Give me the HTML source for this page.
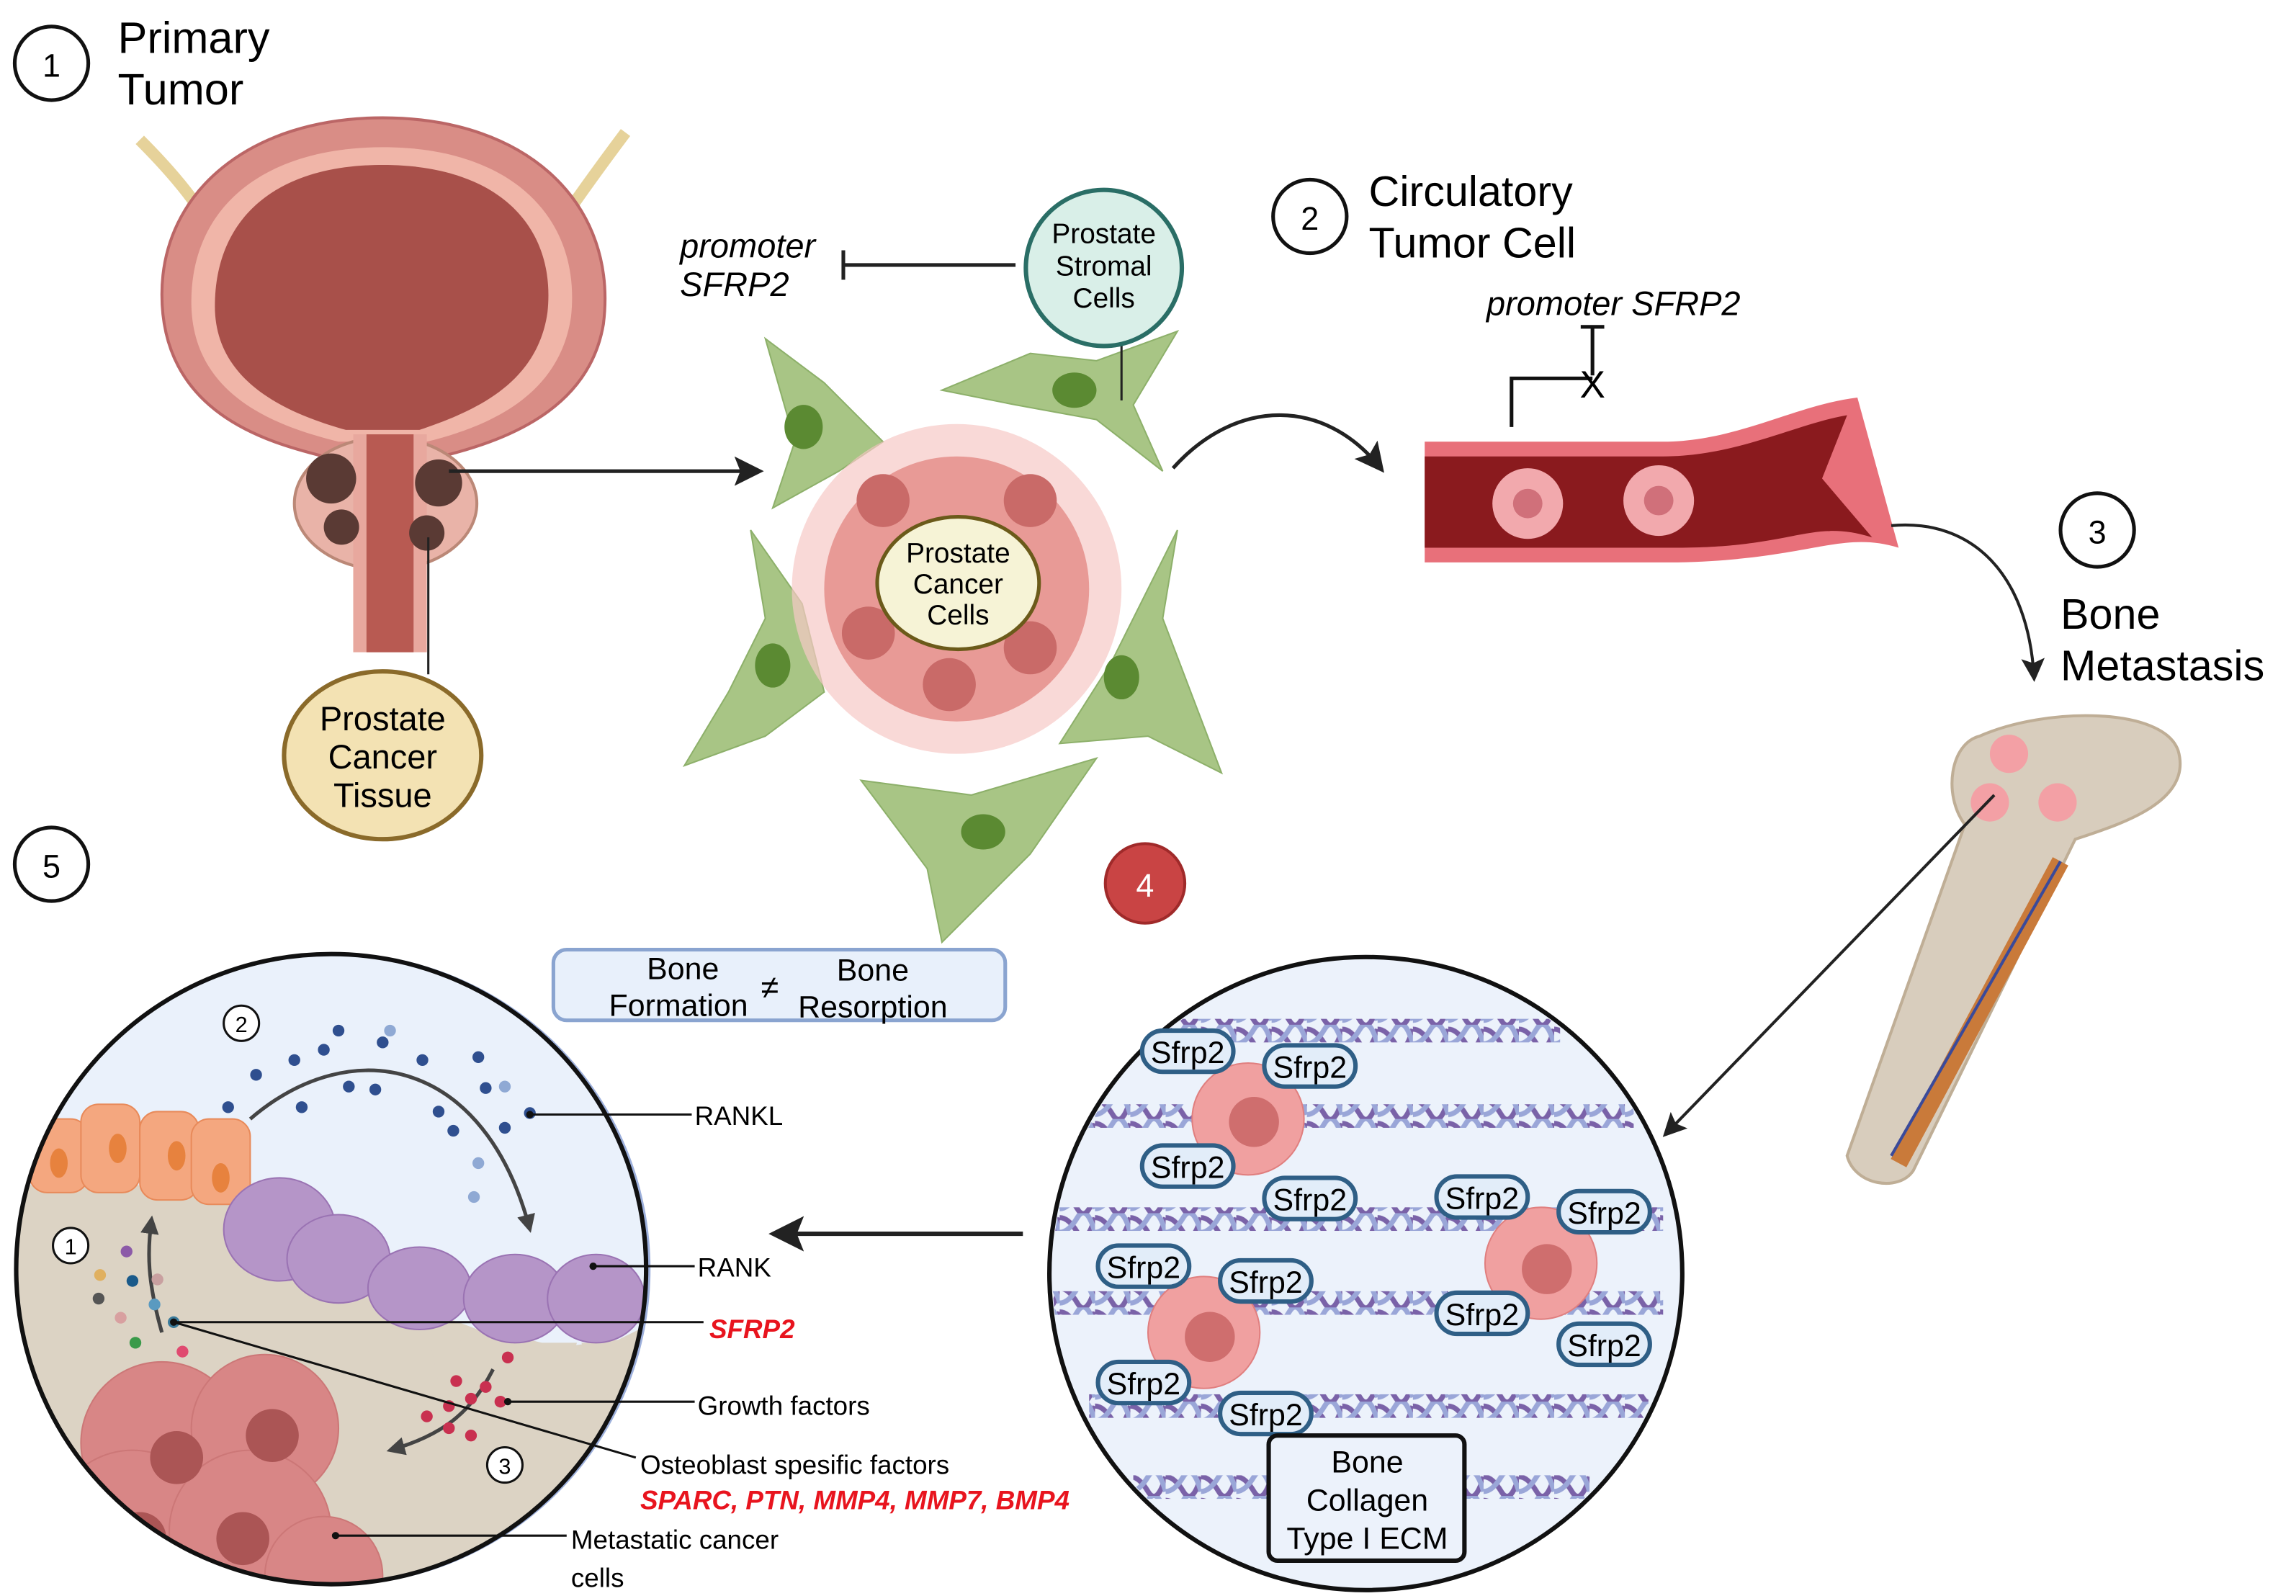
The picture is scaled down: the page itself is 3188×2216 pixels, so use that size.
<!DOCTYPE html>
<html><head><meta charset="utf-8"><style>
html,body{margin:0;padding:0;background:#fff}
svg{display:block}
text{font-family:"Liberation Sans",sans-serif}
</style></head><body>
<svg width="3188" height="2216" viewBox="0 0 1560 1084" preserveAspectRatio="none" xmlns="http://www.w3.org/2000/svg">
<defs>
<pattern id="col" x="0" y="-8" width="24" height="16" patternUnits="userSpaceOnUse">
<path d="M0,3 Q6,3 12,13 T24,3" fill="none" stroke="#7a62a8" stroke-width="3.5"/>
<path d="M0,13 Q6,13 12,3 T24,13" fill="none" stroke="#9aa6d8" stroke-width="3.5"/>
</pattern>
<marker id="ah" viewBox="0 0 10 10" refX="8" refY="5" markerWidth="8" markerHeight="8" orient="auto"><path d="M0,0 L10,5 L0,10 L2,5 z" fill="#222"/></marker>
<marker id="ahg" viewBox="0 0 10 10" refX="8" refY="5" markerWidth="5" markerHeight="5" orient="auto"><path d="M0,0 L10,5 L0,10 z" fill="#444"/></marker>
<clipPath id="cl"><circle cx="225" cy="862" r="213"/></clipPath>
<clipPath id="cr"><circle cx="928" cy="865" r="213"/></clipPath>
</defs>

<!-- Step 1 -->
<circle cx="35" cy="43" r="25" fill="#fff" stroke="#111" stroke-width="2.5"/>
<text x="35" y="52" font-size="22" text-anchor="middle">1</text>
<text x="80" y="36" font-size="30">Primary</text>
<text x="80" y="71" font-size="30">Tumor</text>

<!-- bladder -->
<path d="M95,95 Q140,140 150,170" stroke="#e6d29a" stroke-width="8" fill="none"/>
<path d="M425,90 Q395,130 375,160" stroke="#e6d29a" stroke-width="8" fill="none"/>
<path d="M260,80 C360,80 420,140 410,220 C400,280 340,300 300,310 L220,310 C180,300 110,280 110,200 C110,130 170,80 260,80 Z" fill="#d98d86" stroke="#b66" stroke-width="2"/>
<path d="M260,100 C350,100 395,150 388,215 C380,270 330,290 290,300 L230,300 C190,290 130,270 130,205 C130,140 180,100 260,100 Z" fill="#f0b5a8"/>
<path d="M260,112 C340,112 378,155 372,212 C365,262 320,280 285,292 L235,292 C200,282 146,262 146,208 C146,150 185,112 260,112 Z" fill="#a8504a"/>
<ellipse cx="262" cy="342" rx="62" ry="45" fill="#e9b3a8" stroke="#b87" stroke-width="2"/>
<rect x="240" y="295" width="50" height="148" fill="#e8a89e"/>
<rect x="249" y="295" width="32" height="148" fill="#b85a52"/>
<circle cx="225" cy="325" r="17" fill="#5a3a34"/>
<circle cx="232" cy="358" r="12" fill="#5a3a34"/>
<circle cx="298" cy="328" r="16" fill="#5a3a34"/>
<circle cx="290" cy="362" r="12" fill="#5a3a34"/>
<line x1="291" y1="365" x2="291" y2="458" stroke="#222" stroke-width="1.5"/>
<ellipse cx="260" cy="513" rx="67" ry="57" fill="#f3e2b3" stroke="#8a6a2a" stroke-width="3"/>
<text x="260" y="496" font-size="23" text-anchor="middle">Prostate</text>
<text x="260" y="522" font-size="23" text-anchor="middle">Cancer</text>
<text x="260" y="548" font-size="23" text-anchor="middle">Tissue</text>
<line x1="305" y1="320" x2="515" y2="320" stroke="#222" stroke-width="2.5" marker-end="url(#ah)"/>

<!-- microenvironment -->
<text x="462" y="175" font-size="23" font-style="italic">promoter</text>
<text x="462" y="201" font-size="23" font-style="italic">SFRP2</text>
<line x1="573" y1="180" x2="690" y2="180" stroke="#222" stroke-width="2.5"/>
<line x1="573" y1="170" x2="573" y2="190" stroke="#222" stroke-width="2.5"/>
<g fill="#a8c585" stroke="#8db06a" stroke-width="1">
<path d="M520,230 L560,260 L600,300 L570,320 L525,345 L540,300 Z"/>
<path d="M640,265 L700,240 L745,245 L800,225 L770,275 L790,320 L745,285 L690,275 Z"/>
<path d="M510,360 L545,410 L560,470 L520,500 L465,520 L495,470 L520,420 Z"/>
<path d="M800,360 L790,420 L830,525 L780,500 L720,505 L755,450 L780,400 Z"/>
<path d="M585,530 L660,540 L745,515 L700,580 L640,640 L630,590 Z"/>
</g>
<g fill="#5b8a32"><ellipse cx="546" cy="290" rx="13" ry="15"/><ellipse cx="730" cy="265" rx="15" ry="12"/><ellipse cx="525" cy="452" rx="12" ry="15"/><ellipse cx="762" cy="460" rx="12" ry="15"/><ellipse cx="668" cy="565" rx="15" ry="12"/></g>
<circle cx="650" cy="400" r="112" fill="#f6c9c6" opacity="0.7"/>
<circle cx="650" cy="400" r="90" fill="#e89a96"/>
<g fill="#c96a68"><circle cx="600" cy="340" r="18"/><circle cx="700" cy="340" r="18"/><circle cx="590" cy="430" r="18"/><circle cx="700" cy="440" r="18"/><circle cx="645" cy="465" r="18"/></g>
<ellipse cx="651" cy="396" rx="55" ry="45" fill="#f6f3d6" stroke="#6b5a1a" stroke-width="2.5"/>
<text x="651" y="382" font-size="19" text-anchor="middle">Prostate</text>
<text x="651" y="403" font-size="19" text-anchor="middle">Cancer</text>
<text x="651" y="424" font-size="19" text-anchor="middle">Cells</text>
<line x1="762" y1="230" x2="762" y2="272" stroke="#222" stroke-width="1.5"/>
<circle cx="750" cy="182" r="53" fill="#d9efe8" stroke="#2a6e66" stroke-width="3"/>
<text x="750" y="165" font-size="19" text-anchor="middle">Prostate</text>
<text x="750" y="187" font-size="19" text-anchor="middle">Stromal</text>
<text x="750" y="209" font-size="19" text-anchor="middle">Cells</text>
<circle cx="778" cy="600" r="27" fill="#c94444" stroke="#a02a2a" stroke-width="2"/>
<text x="778" y="609" font-size="22" text-anchor="middle" fill="#fff">4</text>
<rect x="376" y="645" width="307" height="48" rx="9" fill="#e8f0fb" stroke="#8aa4d0" stroke-width="2.5"/>
<text x="464" y="665" font-size="21" text-anchor="middle">Bone</text>
<text x="461" y="690" font-size="21" text-anchor="middle">Formation</text>
<text x="523" y="678" font-size="22" text-anchor="middle">≠</text>
<text x="593" y="666" font-size="21" text-anchor="middle">Bone</text>
<text x="593" y="691" font-size="21" text-anchor="middle">Resorption</text>

<!-- Step 2 -->
<circle cx="890" cy="147" r="25" fill="#fff" stroke="#111" stroke-width="2.5"/>
<text x="890" y="156" font-size="22" text-anchor="middle">2</text>
<text x="930" y="140" font-size="29">Circulatory</text>
<text x="930" y="175" font-size="29">Tumor Cell</text>
<text x="1010" y="214" font-size="23" font-style="italic">promoter SFRP2</text>
<path d="M1027,290 L1027,257 L1082,257" stroke="#111" stroke-width="2.5" fill="none"/>
<line x1="1082" y1="222" x2="1082" y2="255" stroke="#111" stroke-width="2.5"/>
<line x1="1074" y1="222" x2="1090" y2="222" stroke="#111" stroke-width="2.5"/>
<text x="1082" y="270" font-size="26" text-anchor="middle">X</text>
<path d="M797,318 C840,270 900,270 938,318" stroke="#222" stroke-width="2.5" fill="none" marker-end="url(#ah)"/>
<path d="M968,300 L1130,300 C1180,300 1220,275 1262,270 L1290,372 C1250,360 1230,380 1140,382 L968,382 Z" fill="#e8707a"/>
<path d="M968,310 L1130,310 C1180,310 1220,288 1255,282 L1238,325 L1272,365 C1230,352 1220,372 1140,372 L968,372 Z" fill="#8a1a1e"/>
<circle cx="1038" cy="342" r="24" fill="#f2a9ad"/><circle cx="1038" cy="342" r="10" fill="#d0707a"/>
<circle cx="1127" cy="340" r="24" fill="#f2a9ad"/><circle cx="1127" cy="340" r="10" fill="#d0707a"/>

<!-- Step 3 -->
<circle cx="1425" cy="360" r="25" fill="#fff" stroke="#111" stroke-width="2.5"/>
<text x="1425" y="369" font-size="22" text-anchor="middle">3</text>
<text x="1400" y="427" font-size="29">Bone</text>
<text x="1400" y="462" font-size="29">Metastasis</text>
<path d="M1285,357 C1340,352 1378,390 1382,460" stroke="#222" stroke-width="2" fill="none" marker-end="url(#ah)"/>
<!-- femur -->
<path d="M1345,500 C1390,480 1470,480 1480,510 C1490,545 1440,560 1410,570 L1300,795 C1290,810 1260,805 1255,785 L1335,560 C1320,540 1325,505 1345,500 Z" fill="#d8cdbd" stroke="#bfae96" stroke-width="2"/>
<path d="M1400,585 L1290,790" stroke="#c97a3a" stroke-width="12"/>
<path d="M1400,585 L1285,785" stroke="#3a4a9a" stroke-width="2"/>
<circle cx="1365" cy="512" r="13" fill="#f3a0a5"/><circle cx="1352" cy="545" r="13" fill="#f3a0a5"/><circle cx="1398" cy="545" r="13" fill="#f3a0a5"/>
<line x1="1355" y1="540" x2="1132" y2="770" stroke="#222" stroke-width="2" marker-end="url(#ah)"/>

<!-- right circle -->
<circle cx="928" cy="865" r="215" fill="#ecf2fb"/>
<g clip-path="url(#cr)">
<rect x="780" y="692" width="280" height="16" fill="url(#col)"/>
<rect x="710" y="750" width="400" height="16" fill="url(#col)"/>
<rect x="710" y="820" width="420" height="16" fill="url(#col)"/>
<rect x="710" y="877" width="420" height="16" fill="url(#col)"/>
<rect x="740" y="947" width="380" height="16" fill="url(#col)"/>
<rect x="770" y="1002" width="310" height="16" fill="url(#col)"/>
</g>
<circle cx="928" cy="865" r="215" fill="none" stroke="#111" stroke-width="3"/>
<g fill="#f0a0a0" stroke="#e07f7f"><circle cx="848" cy="760" r="38"/><circle cx="1047" cy="858" r="38"/><circle cx="818" cy="905" r="38"/></g>
<g fill="#cf6e6e"><circle cx="852" cy="762" r="17"/><circle cx="1051" cy="862" r="17"/><circle cx="822" cy="908" r="17"/></g>
<g fill="#e2edf9" stroke="#2f5f86" stroke-width="3">
<rect x="776" y="700" width="62" height="28" rx="14"/><rect x="859" y="710" width="62" height="28" rx="14"/>
<rect x="776" y="778" width="62" height="28" rx="14"/><rect x="859" y="800" width="62" height="28" rx="14"/>
<rect x="976" y="799" width="62" height="28" rx="14"/><rect x="1059" y="809" width="62" height="28" rx="14"/>
<rect x="746" y="846" width="62" height="28" rx="14"/><rect x="829" y="856" width="62" height="28" rx="14"/>
<rect x="976" y="878" width="62" height="28" rx="14"/><rect x="1059" y="899" width="62" height="28" rx="14"/>
<rect x="746" y="925" width="62" height="28" rx="14"/><rect x="829" y="946" width="62" height="28" rx="14"/>
</g>
<g font-size="21" text-anchor="middle">
<text x="807" y="722">Sfrp2</text><text x="890" y="732">Sfrp2</text>
<text x="807" y="800">Sfrp2</text><text x="890" y="822">Sfrp2</text>
<text x="1007" y="821">Sfrp2</text><text x="1090" y="831">Sfrp2</text>
<text x="777" y="868">Sfrp2</text><text x="860" y="878">Sfrp2</text>
<text x="1007" y="900">Sfrp2</text><text x="1090" y="921">Sfrp2</text>
<text x="777" y="947">Sfrp2</text><text x="860" y="968">Sfrp2</text>
</g>
<rect x="862" y="975" width="133" height="85" rx="6" fill="#ecf2fb" stroke="#111" stroke-width="3"/>
<text x="929" y="1000" font-size="21" text-anchor="middle">Bone</text>
<text x="929" y="1026" font-size="21" text-anchor="middle">Collagen</text>
<text x="929" y="1052" font-size="21" text-anchor="middle">Type I ECM</text>
<line x1="695" y1="838" x2="527" y2="838" stroke="#222" stroke-width="3" marker-end="url(#ah)"/>

<!-- Step 5 -->
<circle cx="35" cy="587" r="25" fill="#fff" stroke="#111" stroke-width="2.5"/>
<text x="35" y="596" font-size="22" text-anchor="middle">5</text>
<circle cx="227" cy="862" r="215" fill="#9db0dc"/>
<circle cx="225" cy="862" r="214" fill="#eaf1fb"/>
<g clip-path="url(#cl)">
<path d="M0,805 L160,805 L180,830 L230,860 L255,875 L290,890 L330,905 L360,910 L380,915 L420,910 L440,900 L440,1100 L0,1100 Z" fill="#dcd3c4"/>
<path d="M150,820 Q160,860 190,900 L200,840 Z" fill="#dcd3c4"/>
<path d="M240,870 L255,940 L270,880 Z M290,900 L300,950 L315,905 Z M330,905 L345,955 L360,910 Z M365,912 L378,955 L392,912 Z M395,912 L410,955 L425,912 Z" fill="#dcd3c4"/>
<g fill="#f4a77f" stroke="#e88a5a"><rect x="20" y="760" width="40" height="50" rx="12"/><rect x="55" y="750" width="40" height="60" rx="12"/><rect x="95" y="755" width="40" height="60" rx="12"/><rect x="130" y="760" width="40" height="58" rx="12"/></g>
<g fill="#e7823e"><ellipse cx="40" cy="790" rx="6" ry="10"/><ellipse cx="80" cy="780" rx="6" ry="10"/><ellipse cx="120" cy="785" rx="6" ry="10"/><ellipse cx="150" cy="800" rx="6" ry="10"/></g>
<g fill="#b595c8" stroke="#9a73b3"><ellipse cx="190" cy="835" rx="38" ry="35"/><ellipse cx="230" cy="855" rx="35" ry="30"/><ellipse cx="285" cy="875" rx="35" ry="28"/><ellipse cx="350" cy="882" rx="35" ry="30"/><ellipse cx="405" cy="882" rx="33" ry="30"/></g>
<g fill="#d88686" stroke="#c77"><circle cx="110" cy="980" r="55"/><circle cx="180" cy="970" r="50"/><circle cx="90" cy="1040" r="55"/><circle cx="170" cy="1040" r="55"/><circle cx="220" cy="1070" r="40"/></g>
<g fill="#ab5555"><circle cx="120" cy="990" r="18"/><circle cx="185" cy="975" r="18"/><circle cx="95" cy="1045" r="18"/><circle cx="165" cy="1045" r="18"/></g>
</g>
<circle cx="225" cy="862" r="214" fill="none" stroke="#111" stroke-width="3"/>
<g fill="#2f4f8f">
<circle cx="155" cy="752" r="4"/><circle cx="174" cy="730" r="4"/><circle cx="200" cy="720" r="4"/><circle cx="220" cy="713" r="4"/><circle cx="237" cy="738" r="4"/><circle cx="255" cy="740" r="4"/><circle cx="260" cy="708" r="4"/><circle cx="287" cy="720" r="4"/><circle cx="298" cy="755" r="4"/><circle cx="308" cy="768" r="4"/><circle cx="325" cy="718" r="4"/><circle cx="330" cy="739" r="4"/><circle cx="343" cy="766" r="4"/><circle cx="360" cy="756" r="4"/><circle cx="205" cy="752" r="4"/><circle cx="230" cy="700" r="4"/>
</g>
<g fill="#8fa9d4"><circle cx="265" cy="700" r="4"/><circle cx="343" cy="738" r="4"/><circle cx="325" cy="790" r="4"/><circle cx="322" cy="813" r="4"/></g>
<path d="M170,760 C240,700 330,720 360,835" stroke="#444" stroke-width="2.5" fill="none" marker-end="url(#ahg)"/>
<path d="M110,905 C100,870 100,850 103,828" stroke="#444" stroke-width="2.5" fill="none" marker-end="url(#ahg)"/>
<path d="M335,930 C320,960 300,975 265,985" stroke="#444" stroke-width="2.5" fill="none" marker-end="url(#ahg)"/>
<g><circle cx="86" cy="850" r="4" fill="#8c5aa8"/><circle cx="68" cy="866" r="4" fill="#e0b060"/><circle cx="90" cy="870" r="4" fill="#1a5a8a"/><circle cx="107" cy="869" r="4" fill="#c9a0a0"/><circle cx="67" cy="882" r="4" fill="#555"/><circle cx="105" cy="886" r="4" fill="#5a9ac0"/><circle cx="82" cy="895" r="4" fill="#d8a0a0"/><circle cx="92" cy="912" r="4" fill="#3a9a4a"/><circle cx="118" cy="898" r="4" fill="#3a7a9a"/><circle cx="124" cy="918" r="4" fill="#e04a70"/></g>
<g fill="#c93050"><circle cx="345" cy="922" r="4"/><circle cx="330" cy="942" r="4"/><circle cx="310" cy="938" r="4"/><circle cx="320" cy="950" r="4"/><circle cx="305" cy="955" r="4"/><circle cx="290" cy="962" r="4"/><circle cx="305" cy="970" r="4"/><circle cx="320" cy="975" r="4"/><circle cx="340" cy="952" r="4"/></g>
<circle cx="164" cy="695" r="12" fill="#fff" stroke="#111" stroke-width="1.5"/><text x="164" y="701" font-size="15" text-anchor="middle">2</text>
<circle cx="48" cy="846" r="12" fill="#fff" stroke="#111" stroke-width="1.5"/><text x="48" y="852" font-size="15" text-anchor="middle">1</text>
<circle cx="343" cy="995" r="12" fill="#fff" stroke="#111" stroke-width="1.5"/><text x="343" y="1001" font-size="15" text-anchor="middle">3</text>
<g stroke="#111" stroke-width="1.5">
<line x1="360" y1="757" x2="470" y2="757"/><line x1="403" y1="860" x2="472" y2="860"/>
<line x1="118" y1="898" x2="478" y2="898"/><line x1="118" y1="898" x2="432" y2="990"/>
<line x1="345" y1="952" x2="472" y2="952"/><line x1="228" y1="1043" x2="385" y2="1043"/>
</g>
<circle cx="360" cy="757" r="2.5" fill="#111"/><circle cx="403" cy="860" r="2.5" fill="#111"/><circle cx="118" cy="898" r="2.5" fill="#111"/><circle cx="345" cy="952" r="2.5" fill="#111"/><circle cx="228" cy="1043" r="2.5" fill="#111"/>
<g font-size="18">
<text x="472" y="764">RANKL</text>
<text x="474" y="867">RANK</text>
<text x="482" y="909" fill="#e8141e" font-weight="bold" font-style="italic">SFRP2</text>
<text x="474" y="961">Growth factors</text>
<text x="435" y="1001">Osteoblast spesific factors</text>
<text x="435" y="1025" fill="#e8141e" font-weight="bold" font-style="italic">SPARC, PTN, MMP4, MMP7, BMP4</text>
<text x="388" y="1052">Metastatic cancer</text>
<text x="388" y="1078">cells</text>
</g>
</svg>
</body></html>
